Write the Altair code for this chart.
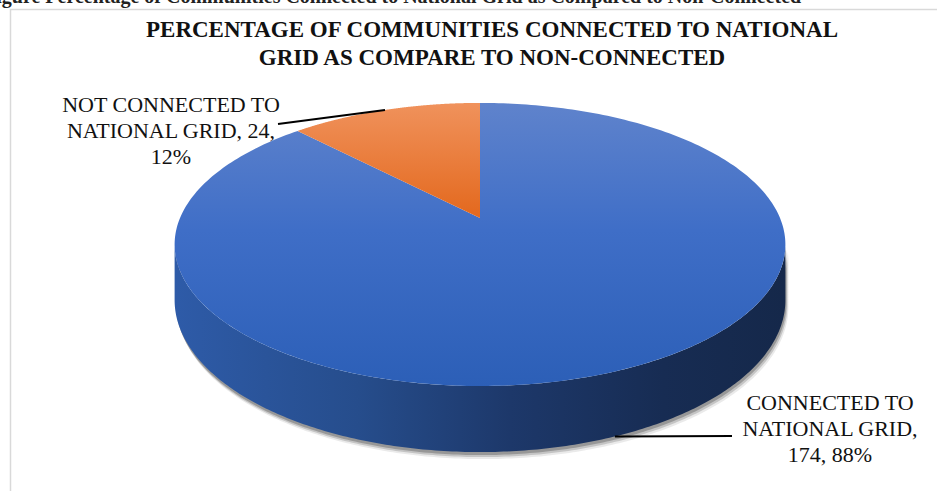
import numpy as np
import pandas as pd
import altair as alt

# ---------------- data ----------------
categories = ["CONNECTED TO NATIONAL GRID", "NOT CONNECTED TO NATIONAL GRID"]
counts = [174, 24]
label_lines = [["CONNECTED TO", "NATIONAL GRID"], ["NOT CONNECTED TO", "NATIONAL GRID"]]
title_lines = ["PERCENTAGE OF COMMUNITIES CONNECTED TO NATIONAL",
               "GRID AS COMPARE TO NON-CONNECTED"]
caption = "Figure Percentage of Communities Connected to National Grid as Compared to Non-Connected"

# ---------------- layout / style ----------------
W, H = 937, 491
CX, CY = 480, 218      # projected pie centre
A, B = 300, 136.6      # projected radii
K = 0.187              # perspective strength
DEPTH = 53.7           # wall height
FONT = "Liberation Serif"

top_fills = [
    {"gradient": "linear", "x1": 0, "y1": 0, "x2": 0, "y2": 1,
     "stops": [{"offset": 0, "color": "#5f83cc"}, {"offset": 0.45, "color": "#3f6ec7"},
               {"offset": 1, "color": "#2c5fb7"}]},
    {"gradient": "linear", "x1": 0, "y1": 0, "x2": 0, "y2": 1,
     "stops": [{"offset": 0, "color": "#f0925c"}, {"offset": 1, "color": "#e3681d"}]},
]
wall_fills = [
    {"gradient": "linear", "x1": 0, "y1": 0, "x2": 1, "y2": 0,
     "stops": [{"offset": 0, "color": "#2e5ba8"}, {"offset": 0.3, "color": "#264d8c"},
               {"offset": 0.55, "color": "#1d386a"}, {"offset": 0.8, "color": "#172c53"},
               {"offset": 1, "color": "#15284a"}]},
    {"gradient": "linear", "x1": 0, "y1": 0, "x2": 1, "y2": 0,
     "stops": [{"offset": 0, "color": "#c0561a"}, {"offset": 1, "color": "#8a3c10"}]},
]
# label anchor (centre x, first baseline y) and leader end, per slice
label_pos = [(830, 410), (171, 112)]
leader_end = [(732, 436), (278, 124)]


def proj(theta_deg, level=0.0, dx=0.0, dy=0.0):
    t = np.radians(theta_deg)
    u, v = np.sin(t), np.cos(t)
    w = 1 + K * v
    x = CX + A * u / w + dx
    y = CY - B * v / w + level * DEPTH / w + dy
    return x, y


total = sum(counts)
bounds = np.concatenate([[0], np.cumsum(counts)]) / total * 360
front_a = np.degrees(np.arccos(-K))
front_b = 360 - front_a

xs = alt.Scale(domain=[0, W], range=[0, W], nice=False, zero=False)
ys = alt.Scale(domain=[0, H], reverse=True, nice=False, zero=False)


def poly_chart(df, fill, opacity=1.0):
    return alt.Chart(df).mark_line(fill=fill, strokeOpacity=0, strokeWidth=0,
                                   fillOpacity=opacity, interpolate="linear").encode(
        x=alt.X("x:Q", scale=xs, axis=None),
        y=alt.Y("y:Q", scale=ys, axis=None),
        order=alt.Order("i:Q"),
    )


layers = []

# border frame
frame = alt.Chart(pd.DataFrame({"a": [0]})).mark_rect(
    fill="white", stroke="#d9d9d9", strokeWidth=1.5).encode(
    x=alt.value(10.5), x2=alt.value(W + 40), y=alt.value(9.5), y2=alt.value(H + 40))
layers.append(frame)

# walls (front part of each slice) + shadows
wall_polys = []
for s in range(len(counts)):
    a0, a1 = max(bounds[s], front_a), min(bounds[s + 1], front_b)
    if a1 <= a0:
        continue
    th = np.linspace(a0, a1, 240)
    xt, yt = proj(th, 0)
    xb, yb = proj(th[::-1], 1)
    wall_polys.append((s, np.concatenate([xt, xb]), np.concatenate([yt, yb]), th))

for dx, dy, op in [(3.0, 7.0, 0.12), (2.0, 5.0, 0.25), (1.0, 3.0, 0.4)]:
    for s, px, py, th in wall_polys:
        xb, yb = proj(th[::-1], 1, dx, dy)
        xt, yt = proj(th, 0, dx, dy)
        df = pd.DataFrame({"x": np.concatenate([xt, xb]), "y": np.concatenate([yt, yb])})
        df["i"] = np.arange(len(df))
        layers.append(poly_chart(df, "#555555", op))

for s, px, py, th in wall_polys:
    df = pd.DataFrame({"x": px, "y": py})
    df["i"] = np.arange(len(df))
    layers.append(poly_chart(df, wall_fills[s]))

# top faces
for s in range(len(counts)):
    th = np.linspace(bounds[s], bounds[s + 1], 300)
    x, y = proj(th, 0)
    px = np.concatenate([[CX], x, [CX]])
    py = np.concatenate([[CY], y, [CY]])
    df = pd.DataFrame({"x": px, "y": py})
    df["i"] = np.arange(len(df))
    layers.append(poly_chart(df, top_fills[s]))

# leader lines and labels
lead_rows, lab_rows = [], []
for s in range(len(counts)):
    mid = (bounds[s] + bounds[s + 1]) / 2
    level = 1 if np.cos(np.radians(mid)) < 0 else 0
    x0, y0 = proj(mid, level)
    lead_rows += [{"s": s, "x": float(x0), "y": float(y0), "i": 0},
                  {"s": s, "x": leader_end[s][0], "y": leader_end[s][1], "i": 1}]
    pct = round(100 * counts[s] / total)
    l0, l1 = label_lines[s]
    if s == 0:
        txt = f"{l0}\n{l1},\n{counts[s]}, {pct}%"
    else:
        txt = f"{l0}\n{l1}, {counts[s]},\n{pct}%"
    lab_rows.append({"x": label_pos[s][0], "y": label_pos[s][1], "t": txt})

leaders = alt.Chart(pd.DataFrame(lead_rows)).mark_line(
    color="black", strokeWidth=2).encode(
    x=alt.X("x:Q", scale=xs, axis=None), y=alt.Y("y:Q", scale=ys, axis=None),
    detail="s:N", order=alt.Order("i:Q"))
layers.append(leaders)

labels = alt.Chart(pd.DataFrame(lab_rows)).mark_text(
    font=FONT, fontSize=22, color="#111111", align="center", baseline="alphabetic",
    lineBreak="\n", lineHeight=26).encode(
    x=alt.X("x:Q", scale=xs, axis=None), y=alt.Y("y:Q", scale=ys, axis=None),
    text="t:N")
layers.append(labels)

title = alt.Chart(pd.DataFrame({"x": [492], "y": [37], "t": ["\n".join(title_lines)]})).mark_text(
    font=FONT, fontSize=23, fontWeight="bold", color="#111111", align="center",
    baseline="alphabetic", lineBreak="\n", lineHeight=28).encode(
    x=alt.X("x:Q", scale=xs, axis=None), y=alt.Y("y:Q", scale=ys, axis=None),
    text="t:N")
layers.append(title)

cap = alt.Chart(pd.DataFrame({"x": [-16], "y": [3], "t": [caption]})).mark_text(
    font=FONT, fontSize=20, fontWeight="bold", color="#222222", align="left",
    baseline="alphabetic").encode(
    x=alt.X("x:Q", scale=xs, axis=None), y=alt.Y("y:Q", scale=ys, axis=None),
    text="t:N")
layers.append(cap)

chart = alt.layer(*layers).properties(
    width=W, height=H, padding=0, background="white",
    autosize=alt.AutoSizeParams(type="none"),
).configure_view(stroke=None)

chart.save("out.html", embed_options={"renderer": "svg", "actions": False})
